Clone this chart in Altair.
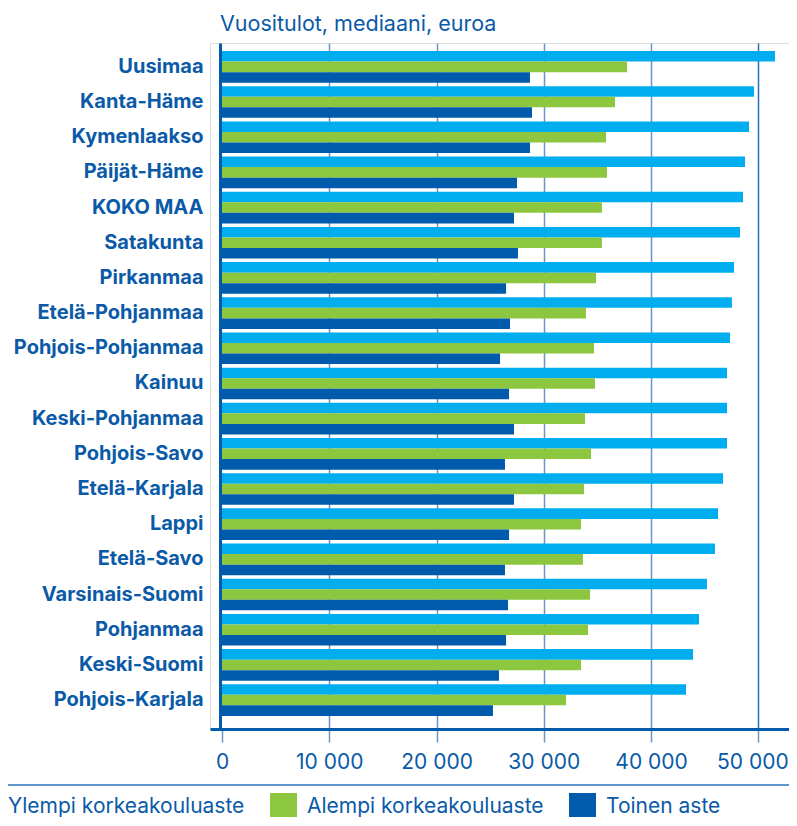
import altair as alt
import pandas as pd

regions = ["Uusimaa", "Kanta-Häme", "Kymenlaakso", "Päijät-Häme", "KOKO MAA", "Satakunta",
           "Pirkanmaa", "Etelä-Pohjanmaa", "Pohjois-Pohjanmaa", "Kainuu", "Keski-Pohjanmaa",
           "Pohjois-Savo", "Etelä-Karjala", "Lappi", "Etelä-Savo", "Varsinais-Suomi",
           "Pohjanmaa", "Keski-Suomi", "Pohjois-Karjala"]
ylempi = [51550, 49590, 49130, 48760, 48570, 48290, 47730, 47540, 47360, 47080, 47080,
          47080, 46710, 46240, 45960, 45210, 44470, 43910, 43260]
alempi = [37760, 36640, 35800, 35890, 35420, 35420, 34870, 33930, 34680, 34770, 33840,
          34400, 33750, 33470, 33650, 34310, 34120, 33470, 32070]
toinen = [28710, 28900, 28710, 27500, 27220, 27590, 26480, 26850, 25920, 26760, 27220,
          26380, 27220, 26760, 26380, 26660, 26480, 25820, 25260]
levels = ["Ylempi korkeakouluaste", "Alempi korkeakouluaste", "Toinen aste"]
colors = ["#00AEEF", "#8DC63F", "#005BAC"]
tick_values = [0, 10000, 20000, 30000, 40000, 50000]

rows = []
for i, r in enumerate(regions):
    for lev, vals in zip(levels, [ylempi, alempi, toinen]):
        rows.append({"alue": r, "taso": lev, "arvo": vals[i]})
df = pd.DataFrame(rows)

FONT = "Inter"
TXT = "#0a5aa8"
W, H = 579, 686
K = 107.27 / 10000.0
xmin = -12 / K
xmax = xmin + W / K

bars = alt.Chart(df).mark_bar().encode(
    y=alt.Y("alue:N", sort=regions, title=None,
            scale=alt.Scale(paddingInner=0.1, paddingOuter=0.3, align=0.38),
            axis=alt.Axis(ticks=False, labelPadding=17, offset=-10, domainWidth=3,
                          domainColor="#005BAC", labelFont=FONT, labelFontSize=20,
                          labelFontWeight="bold", labelColor=TXT, grid=False,
                          labelLimit=300)),
    yOffset=alt.YOffset("taso:N", sort=levels, scale=alt.Scale(paddingInner=0, paddingOuter=0)),
    x=alt.X("arvo:Q", title=None,
            scale=alt.Scale(domain=[xmin, xmax], nice=False, zero=False),
            axis=alt.Axis(values=tick_values, tickSize=13, tickWidth=1.5, tickColor="#6a95c8",
                          domainWidth=3, domainColor="#005BAC",
                          grid=True, gridWidth=1.5,
                          gridColor={"condition": {"test": "datum.value === 50000", "value": "#2a6fbd"},
                                     "value": "#6a95c8"},
                          gridOpacity={"condition": {"test": "datum.value === 0", "value": 0}, "value": 1},
                          labelOffset={"condition": {"test": "datum.value === 50000", "value": -6},
                                       "value": 0},
                          labelBound=False,
                          labelFont=FONT, labelFontSize=21, labelColor=TXT, labelPadding=9,
                          labelExpr="replace(format(datum.value, ','), ',', ' ')")),
    color=alt.Color("taso:N", sort=levels,
                    scale=alt.Scale(domain=levels, range=colors),
                    legend=alt.Legend(title=None, orient="none", legendX=-239, legendY=750,
                                      direction="horizontal", columns=3, columnPadding=25,
                                      symbolType="square", symbolSize=729, symbolStrokeWidth=0,
                                      symbolOpacity=1, labelOffset=10, labelFont=FONT,
                                      labelFontSize=21, labelColor=TXT, padding=0,
                                      labelLimit=400)),
)

sep = alt.Chart(pd.DataFrame({"a": [0]})).mark_rule(color="#2a72bd", strokeWidth=1.5).encode(
    x=alt.value(-210), x2=alt.value(W), y=alt.value(742)
)

chart = alt.layer(bars, sep).properties(
    width=W, height=H,
    title=alt.TitleParams("Vuositulot, mediaani, euroa", anchor="start", frame="group",
                          dx=10, offset=8, font=FONT, fontSize=21.5, fontWeight="normal",
                          color=TXT),
    autosize=alt.AutoSizeParams(type="none"),
    padding={"left": 202, "top": 35, "right": 0, "bottom": 88},
).configure_view(stroke=None).configure(background="white")

chart.save("out.html", embed_options={"renderer": "svg", "actions": False})
